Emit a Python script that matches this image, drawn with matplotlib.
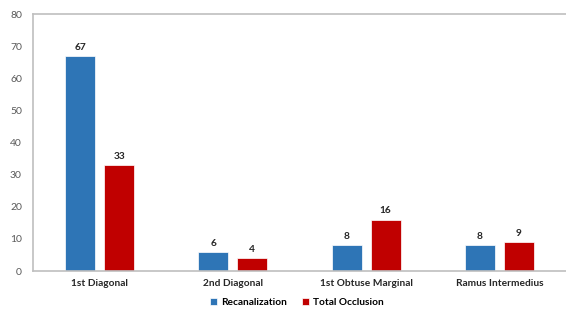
import numpy as np
import matplotlib
matplotlib.use('Agg')
import matplotlib.pyplot as plt

plt.rcParams['font.family'] = ['Lato', 'DejaVu Sans']

categories = ['1st Diagonal', '2nd Diagonal', '1st Obtuse Marginal', 'Ramus Intermedius']
recanalization = [67, 6, 8, 8]
total_occlusion = [33, 4, 16, 9]

blue = '#2E75B6'
red = '#C00000'
grey = '#BFBFBF'

fig = plt.figure(figsize=(5.66, 3.13), dpi=100)
ax = fig.add_axes([0.0583, 0.134, 0.9417, 0.821])

x = np.arange(len(categories))
w = 0.225
off = 0.146
b1 = ax.bar(x - off, recanalization, w, color=blue, edgecolor='white', linewidth=0.5, label='Recanalization')
b2 = ax.bar(x + off, total_occlusion, w, color=red, edgecolor='white', linewidth=0.5, label='Total Occlusion')

for bars in (b1, b2):
    for b in bars:
        ax.annotate(str(int(b.get_height())), (b.get_x() + b.get_width() / 2, b.get_height()),
                    xytext=(0, 3), textcoords='offset points', ha='center', va='bottom',
                    fontsize=7.3, fontweight='bold', color='#262626')

ax.set_xlim(-0.5, 3.5)
ax.set_ylim(0, 80)
ax.set_yticks(range(0, 81, 10))
ax.set_xticks(x)
ax.set_xticklabels(categories, fontsize=7.3, fontweight='bold', color='#262626')
ax.tick_params(axis='y', labelsize=7.5, labelcolor='#595959', length=0, pad=8)
ax.tick_params(axis='x', length=0, pad=6)

ax.spines['right'].set_visible(False)
for s in ('top', 'left', 'bottom'):
    ax.spines[s].set_color(grey)
    ax.spines[s].set_linewidth(1.2)

fig.legend(loc='lower center', bbox_to_anchor=(0.525, -0.01), ncol=2, frameon=False,
           handlelength=0.7, handleheight=0.7, handletextpad=0.4, columnspacing=1.5,
           prop={'weight': 'bold', 'size': 7.3})

fig.savefig('out.png', dpi=100)
